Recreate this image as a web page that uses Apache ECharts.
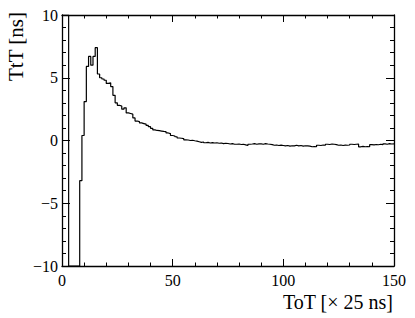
<!DOCTYPE html>
<html>
<head>
<meta charset="utf-8">
<script src="https://cdn.jsdelivr.net/npm/echarts@6/dist/echarts.min.js"></script>
<style>
html,body{margin:0;padding:0;background:#fff;}
#tot{width:415px;height:318px;}
</style>
</head>
<body>
<div id="tot"></div>
<script>
// histogram: bins of width 1 starting at ToT = 0
var binStart = 0;
var binWidth = 1;
var tttValues = [
  10, 10, 10, -10, -10, -10, -10, -10, -3.2, 0.4,
  3.1, 5.9, 6.7, 6.0, 6.7, 7.4, 5.3, 5.0, 4.9, 4.8,
  4.55, 4.6, 4.3, 3.6, 3.0, 2.8, 2.75, 2.5, 2.6, 2.2,
  2.15, 2.1, 1.8, 1.55, 1.5, 1.4, 1.35, 1.3, 1.2, 1.1,
  0.97, 0.85, 0.8, 0.78, 0.75, 0.72, 0.7, 0.6, 0.55, 0.4,
  0.36, 0.3, 0.2, 0.18, 0.15, 0.05, 0.04, 0.0, 0.02, -0.02,
  -0.05, -0.1, -0.15, -0.12, -0.18, -0.15, -0.2, -0.17, -0.2, -0.18,
  -0.22, -0.2, -0.25, -0.22, -0.24, -0.28, -0.25, -0.3, -0.3, -0.28,
  -0.32, -0.3, -0.35, -0.4, -0.3, -0.28, -0.25, -0.3, -0.27, -0.27,
  -0.3, -0.25, -0.28, -0.3, -0.33, -0.38, -0.36, -0.4, -0.37, -0.4,
  -0.43, -0.4, -0.45, -0.42, -0.43, -0.38, -0.43, -0.4, -0.45, -0.42,
  -0.43, -0.45, -0.5, -0.48, -0.5, -0.38, -0.4, -0.36, -0.38, -0.3,
  -0.32, -0.28, -0.3, -0.33, -0.38, -0.36, -0.4, -0.37, -0.38, -0.36,
  -0.3, -0.32, -0.3, -0.28, -0.5, -0.47, -0.5, -0.48, -0.5, -0.33,
  -0.35, -0.32, -0.34, -0.3, -0.33, -0.27, -0.3, -0.25, -0.28, -0.27
];
var xRange = [0, 150];
var yRange = [-10, 10];
var xTitle = 'ToT [\u00d7 25 ns]';
var yTitle = 'TtT [ns]';

var stepData = [];
for (var i = 0; i < tttValues.length; i++) {
  stepData.push([binStart + i * binWidth, tttValues[i]]);
}
stepData.push([binStart + tttValues.length * binWidth, tttValues[tttValues.length - 1]]);

var font = '"Liberation Serif", "DejaVu Serif", serif';
function minus(v) { return String(v).replace('-', '\u2212'); }

var myChart = echarts.init(document.getElementById('tot'), null, {renderer: 'svg'});

var baseX = {
  type: 'value', min: xRange[0], max: xRange[1], interval: 50,
  axisLine: {show: true, onZero: false, lineStyle: {color: '#000', width: 1.3}},
  axisTick: {show: true, inside: true, length: 7, lineStyle: {color: '#000', width: 1}},
  minorTick: {show: true, splitNumber: 5, length: 3.5, lineStyle: {color: '#000', width: 1}},
  splitLine: {show: false},
  minorSplitLine: {show: false}
};
var baseY = {
  type: 'value', min: yRange[0], max: yRange[1], interval: 5,
  axisLine: {show: true, onZero: false, lineStyle: {color: '#000', width: 1.3}},
  axisTick: {show: true, inside: true, length: 8, lineStyle: {color: '#000', width: 1}},
  minorTick: {show: true, splitNumber: 5, length: 4, lineStyle: {color: '#000', width: 1}},
  splitLine: {show: false},
  minorSplitLine: {show: false}
};

option = {
  backgroundColor: '#fff',
  animation: false,
  grid: {left: 62, right: 21, top: 15, bottom: 52, containLabel: false},
  xAxis: [
    Object.assign({}, baseX, {
      position: 'bottom',
      axisLabel: {show: true, margin: 6, color: '#000', fontFamily: font, fontSize: 16,
        formatter: minus}
    }),
    Object.assign({}, baseX, {position: 'top', axisLabel: {show: false}})
  ],
  yAxis: [
    Object.assign({}, baseY, {
      position: 'left',
      axisLabel: {show: true, margin: 4, color: '#000', fontFamily: font, fontSize: 16,
        formatter: minus}
    }),
    Object.assign({}, baseY, {position: 'right', axisLabel: {show: false}})
  ],
  graphic: [
    {type: 'text', x: 393, y: 302,
      style: {text: xTitle, fill: '#000', fontFamily: font, fontSize: 20, align: 'right', verticalAlign: 'middle'}},
    {type: 'text', x: 16, y: 12, rotation: Math.PI / 2,
      style: {text: yTitle, fill: '#000', fontFamily: font, fontSize: 21, align: 'right', verticalAlign: 'middle'}}
  ],
  series: [{
    name: 'TtT',
    type: 'line',
    step: 'end',
    showSymbol: false,
    clip: true,
    data: stepData,
    lineStyle: {color: '#000', width: 1.2}
  }]
};

myChart.setOption(option);
</script>
</body>
</html>
